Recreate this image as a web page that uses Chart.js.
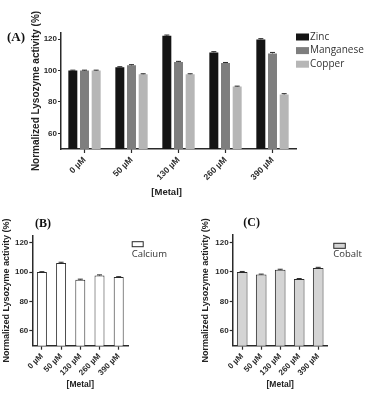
<!DOCTYPE html>
<html>
<head>
<meta charset="utf-8">
<script src="https://cdn.jsdelivr.net/npm/chart.js@4/dist/chart.umd.min.js"></script>
<style>
  body { margin: 0; background: #fff; width: 365px; height: 393px; position: relative; overflow: hidden; }
  canvas { position: absolute; }
</style>
</head>
<body>
<canvas id="chartA" width="365" height="200" style="left:0;top:0"></canvas>
<canvas id="chartB" width="182" height="193" style="left:0;top:200px"></canvas>
<canvas id="chartC" width="183" height="193" style="left:182px;top:200px"></canvas>
<script>
const doses = ['0 µM', '50 µM', '130 µM', '260 µM', '390 µM'];
const zinc = [100, 102.1, 122.2, 111.6, 119.9];
const manganese = [100, 103.4, 105.5, 104.9, 111.0];
const copper = [100, 97.7, 97.7, 89.8, 84.8];
const calcium = [100, 106.1, 94.8, 97.7, 96.6];
const cobalt = [100, 98.2, 101.4, 95.2, 102.7];
const zincErr = [0.3, 0.4, 0.5, 0.5, 0.5];
const manganeseErr = [0.3, 0.4, 0.4, 0.3, 0.6];
const copperErr = [0.3, 0.3, 0.3, 0.3, 0.5];
const calciumErr = [0.3, 0.6, 0.4, 0.4, 0.3];
const cobaltErr = [0.3, 0.3, 0.4, 0.3, 0.4];
const yTicks = [60, 80, 100, 120];

Chart.defaults.font.family = 'Liberation Sans';
Chart.defaults.color = '#2a2a2a';

const INK = '#2a2a2a';

// small caps on top of each bar
const errorBars = {
  id: 'errorBars',
  afterDatasetsDraw(chart) {
    const ctx = chart.ctx;
    const y = chart.scales.y;
    chart.data.datasets.forEach((ds, i) => {
      if (!ds.errors) return;
      chart.getDatasetMeta(i).data.forEach((bar, j) => {
        const v = ds.data[j];
        const top = y.getPixelForValue(v + ds.errors[j]);
        const base = y.getPixelForValue(v);
        ctx.save();
        ctx.strokeStyle = INK;
        ctx.lineWidth = 1;
        ctx.beginPath();
        ctx.moveTo(bar.x, base);
        ctx.lineTo(bar.x, top);
        ctx.moveTo(bar.x - 2.5, top);
        ctx.lineTo(bar.x + 2.5, top);
        ctx.stroke();
        ctx.restore();
      });
    });
  }
};

// legend beside the plot + panel letter
const panelDecor = {
  id: 'panelDecor',
  afterDraw(chart, args, opts) {
    const ctx = chart.ctx;
    const area = chart.chartArea;
    ctx.save();
    ctx.textBaseline = 'middle';
    ctx.textAlign = 'left';
    chart.data.datasets.forEach((ds, i) => {
      const sx = area.right + opts.dx;
      const sy = opts.y0 + i * opts.rowGap;
      ctx.fillStyle = ds.backgroundColor;
      ctx.fillRect(sx, sy - opts.boxH / 2, opts.boxW, opts.boxH);
      if (opts.outline) {
        ctx.strokeStyle = INK;
        ctx.lineWidth = 1;
        ctx.strokeRect(sx + 0.5, sy - opts.boxH / 2 + 0.5, opts.boxW - 1, opts.boxH - 1);
      }
      ctx.fillStyle = '#333';
      ctx.font = opts.fontSize + 'px "Open Sans"';
      ctx.fillText(ds.label, sx + opts.textDx, sy + opts.textDy);
    });
    ctx.font = 'bold ' + opts.tagSize + 'px "Liberation Serif"';
    ctx.fillStyle = '#111';
    ctx.fillText(opts.tag, opts.tagX, opts.tagY);
    ctx.restore();
  }
};

function axes(o) {
  return {
    x: {
      ticks: { autoSkip: false, maxRotation: 45, minRotation: 45, padding: 2,
               font: { size: o.xTickSize, weight: 'bold' }, color: INK },
      grid: { display: true, drawOnChartArea: false, offset: false, tickLength: 4, tickWidth: 1.2, tickColor: INK },
      border: { display: true, color: INK, width: 1.5 },
      title: { display: true, text: o.xTitle, font: { size: o.xTitleSize, weight: 'bold' }, color: '#222',
               padding: { top: 0, bottom: o.xTitlePad } },
      afterFit: s => { s.height = o.xHeight; }
    },
    y: {
      min: 50,
      max: o.yMax,
      afterBuildTicks: s => { s.ticks = yTicks.map(v => ({ value: v })); },
      ticks: { padding: 1, font: { size: 8, weight: 'bold' }, color: INK },
      grid: { display: true, drawOnChartArea: false, tickLength: 3, tickWidth: 1.2, tickColor: INK },
      border: { display: true, color: INK, width: 1.5 },
      title: { display: true, text: 'Normalized Lysozyme activity (%)', font: { size: o.yTitleSize, weight: 'bold' },
               color: '#222', padding: { top: o.yTitlePad, bottom: 0 } },
      afterFit: s => { s.width = o.yWidth; }
    }
  };
}

new Chart(document.getElementById('chartA'), {
  type: 'bar',
  plugins: [errorBars, panelDecor],
  data: {
    labels: doses,
    datasets: [
      { label: 'Zinc', data: zinc, errors: zincErr, backgroundColor: '#141414' },
      { label: 'Manganese', data: manganese, errors: manganeseErr, backgroundColor: '#7e7e7e' },
      { label: 'Copper', data: copper, errors: copperErr, backgroundColor: '#b6b6b6' }
    ]
  },
  options: {
    responsive: false,
    animation: false,
    categoryPercentage: 0.745,
    barPercentage: 0.77,
    layout: { padding: { top: 33, right: 69, left: 0, bottom: 0 } },
    scales: axes({ xTitle: '[Metal]\u00a0\u00a0\u00a0\u00a0\u00a0\u00a0\u00a0\u00a0\u00a0', xTitleSize: 9.5, xTitlePad: 2.3,
                   xTickSize: 8.5, xHeight: 51, yMax: 124, yWidth: 61, yTitleSize: 10, yTitlePad: 30 }),
    plugins: {
      legend: { display: false },
      tooltip: { enabled: false },
      panelDecor: { dx: 0, y0: 37, rowGap: 13.6, boxW: 13, boxH: 7, textDx: 14, textDy: 0, fontSize: 10,
                    outline: false, tag: '(A)', tagSize: 13, tagX: 7, tagY: 37.5 }
    }
  }
});

new Chart(document.getElementById('chartB'), {
  type: 'bar',
  plugins: [errorBars, panelDecor],
  data: {
    labels: doses,
    datasets: [
      { label: 'Calcium', data: calcium, errors: calciumErr, backgroundColor: '#ffffff',
        borderColor: INK, borderWidth: 1 }
    ]
  },
  options: {
    responsive: false,
    animation: false,
    categoryPercentage: 0.52,
    barPercentage: 1,
    layout: { padding: { top: 35.3, right: 53.7, left: 0, bottom: 0 } },
    scales: axes({ xTitle: '[Metal]', xTitleSize: 8.5, xTitlePad: 3.6, xTickSize: 8, xHeight: 47.3,
                   yMax: 125, yWidth: 32.3, yTitleSize: 9, yTitlePad: 1.6 }),
    plugins: {
      legend: { display: false },
      tooltip: { enabled: false },
      panelDecor: { dx: 3.4, y0: 44.2, rowGap: 14, boxW: 12, boxH: 6, textDx: 0, textDy: 10.3, fontSize: 9.5,
                    outline: true, tag: '(B)', tagSize: 12, tagX: 35, tagY: 24 }
    }
  }
});

new Chart(document.getElementById('chartC'), {
  type: 'bar',
  plugins: [errorBars, panelDecor],
  data: {
    labels: doses,
    datasets: [
      { label: 'Cobalt', data: cobalt, errors: cobaltErr, backgroundColor: '#d4d4d4',
        borderColor: INK, borderWidth: 1 }
    ]
  },
  options: {
    responsive: false,
    animation: false,
    categoryPercentage: 0.56,
    barPercentage: 1,
    layout: { padding: { top: 35, right: 37.3, left: 0, bottom: 0 } },
    scales: axes({ xTitle: '[Metal]', xTitleSize: 8.5, xTitlePad: 3.6, xTickSize: 8, xHeight: 47.3,
                   yMax: 125, yWidth: 50.7, yTitleSize: 9, yTitlePad: 18.6 }),
    plugins: {
      legend: { display: false },
      tooltip: { enabled: false },
      panelDecor: { dx: 5.6, y0: 45.8, rowGap: 14, boxW: 12.5, boxH: 6, textDx: 0, textDy: 8.5, fontSize: 9.5,
                    outline: true, tag: '(C)', tagSize: 12, tagX: 61.3, tagY: 23 }
    }
  }
});
</script>
</body>
</html>
